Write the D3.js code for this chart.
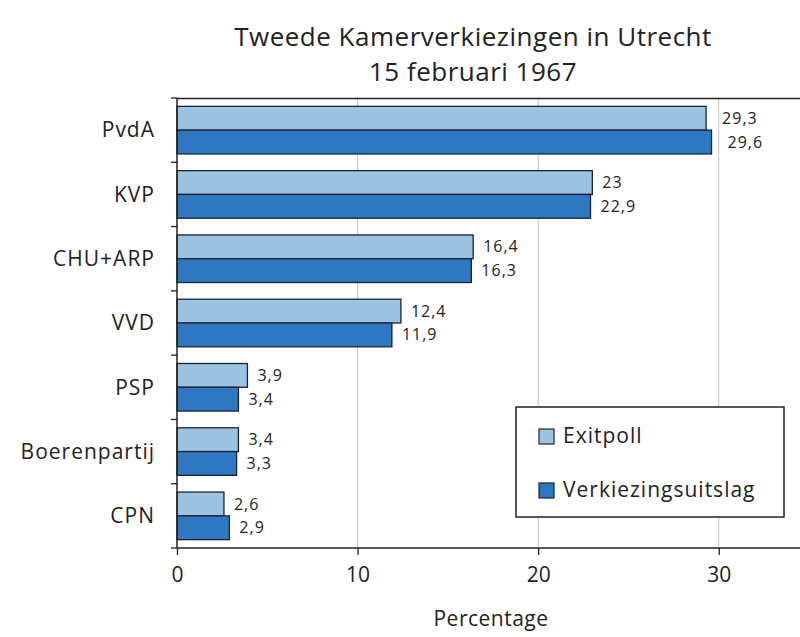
<!DOCTYPE html>
<html lang="nl">
<head>
  <meta charset="UTF-8">
  <title>Tweede Kamerverkiezingen in Utrecht</title>
  <style type="text/css">
    body { margin: 0; background: #fff; }
    svg text { font-family: "Open Sans", sans-serif; fill: #222; }
  </style>
</head>
<body>
  <div id="graph"></div>
  <script src="https://d3js.org/d3.v7.min.js" charset="utf-8"></script>
  <script>
    var parties = ['PvdA', 'KVP', 'CHU+ARP', 'VVD', 'PSP', 'Boerenpartij', 'CPN'];
    var exitpoll = [29.3, 23, 16.4, 12.4, 3.9, 3.4, 2.6];
    var uitslag = [29.6, 22.9, 16.3, 11.9, 3.4, 3.3, 2.9];
    var seriesNames = ['Exitpoll', 'Verkiezingsuitslag'];
    var xTicks = [0, 10, 20, 30];
    var colors = ['#9dc3e2', '#2e78c2'];

    var width = 800, height = 637;
    var margins = { top: 98, right: 0, bottom: 89, left: 177 };

    var svg = d3.select('#graph').append('svg')
        .attr('width', width)
        .attr('height', height);

    var x = d3.scaleLinear()
        .domain([0, 34.5])
        .range([margins.left, width - margins.right]);

    var y = d3.scaleBand()
        .domain(parties)
        .range([margins.top, height - margins.bottom])
        .paddingInner(0.26)
        .paddingOuter(0.13);

    var ySub = d3.scaleBand()
        .domain([0, 1])
        .range([0, y.bandwidth()]);

    // gridlines
    svg.append('g')
      .selectAll('line')
      .data(xTicks.slice(1))
      .join('line')
        .attr('x1', function(d) { return x(d); })
        .attr('x2', function(d) { return x(d); })
        .attr('y1', margins.top)
        .attr('y2', height - margins.bottom)
        .attr('stroke', '#c4c4c4')
        .attr('stroke-width', 1);

    // top border
    svg.append('line')
      .attr('x1', margins.left).attr('x2', width)
      .attr('y1', margins.top + 0.5).attr('y2', margins.top + 0.5)
      .attr('stroke', '#222').attr('stroke-width', 1.5);

    var rows = parties.map(function(p, i) {
      return { party: p, values: [exitpoll[i], uitslag[i]] };
    });

    var groups = svg.append('g')
      .selectAll('g')
      .data(rows)
      .join('g')
        .attr('transform', function(d) { return 'translate(0,' + y(d.party) + ')'; });

    groups.selectAll('rect')
      .data(function(d) { return d.values; })
      .join('rect')
        .attr('x', x(0))
        .attr('y', function(d, i) { return ySub(i); })
        .attr('width', function(d) { return x(d) - x(0); })
        .attr('height', ySub.bandwidth())
        .attr('fill', function(d, i) { return colors[i]; })
        .attr('stroke', '#1c2233')
        .attr('stroke-width', 1.3);

    groups.selectAll('text')
      .data(function(d) { return d.values; })
      .join('text')
        .attr('x', function(d) { return x(d) + (d > 29 ? 16 : 10); })
        .attr('y', function(d, i) { return ySub(i) + ySub.bandwidth() / 2; })
        .attr('dy', '0.35em')
        .attr('font-size', 16)
        .attr('letter-spacing', 1)
        .text(function(d) { return String(d).replace('.', ','); });

    // left axis with ticks between categories
    var yAxis = svg.append('g');
    yAxis.append('line')
      .attr('x1', x(0)).attr('x2', x(0))
      .attr('y1', margins.top).attr('y2', height - margins.bottom)
      .attr('stroke', '#222').attr('stroke-width', 1.5);
    var bounds = d3.range(parties.length + 1).map(function(i) {
      return margins.top + i * (height - margins.top - margins.bottom) / parties.length;
    });
    yAxis.selectAll('line.tick')
      .data(bounds)
      .join('line')
        .attr('class', 'tick')
        .attr('x1', x(0) - 6).attr('x2', x(0))
        .attr('y1', function(d) { return d; })
        .attr('y2', function(d) { return d; })
        .attr('stroke', '#222').attr('stroke-width', 1.3);
    yAxis.selectAll('text')
      .data(parties)
      .join('text')
        .attr('x', 155)
        .attr('y', function(d) { return y(d) + y.bandwidth() / 2; })
        .attr('dy', '0.35em')
        .attr('text-anchor', 'end')
        .attr('font-size', 21)
        .attr('letter-spacing', 1)
        .text(function(d) { return d; });

    // bottom axis
    var xAxis = svg.append('g')
      .attr('transform', 'translate(0,' + (height - margins.bottom) + ')')
      .call(d3.axisBottom(x).tickValues(xTicks).tickSize(7).tickPadding(12));
    xAxis.select('.domain').remove();
    xAxis.append('line')
      .attr('x1', x(0)).attr('x2', width)
      .attr('stroke', '#222').attr('stroke-width', 1.5);
    xAxis.selectAll('.tick line').attr('stroke', '#222').attr('stroke-width', 1.3);
    xAxis.selectAll('.tick text')
      .attr('font-size', 21)
      .attr('font-family', '"Open Sans", sans-serif')
      .attr('fill', '#222');

    svg.append('text')
      .attr('x', 491)
      .attr('y', 626)
      .attr('text-anchor', 'middle')
      .attr('font-size', 21)
      .attr('letter-spacing', 0.5)
      .text('Percentage');

    // title
    svg.append('text')
      .attr('x', 473).attr('y', 46)
      .attr('text-anchor', 'middle')
      .attr('font-size', 26)
      .attr('letter-spacing', 0.5)
      .text('Tweede Kamerverkiezingen in Utrecht');
    svg.append('text')
      .attr('x', 473).attr('y', 81)
      .attr('text-anchor', 'middle')
      .attr('font-size', 26)
      .attr('letter-spacing', 0.5)
      .text('15 februari 1967');

    // legend
    var legend = svg.append('g').attr('transform', 'translate(516,407)');
    legend.append('rect')
      .attr('width', 268).attr('height', 110)
      .attr('fill', '#fff')
      .attr('stroke', '#222').attr('stroke-width', 1.5);
    var items = legend.selectAll('g')
      .data(seriesNames)
      .join('g')
        .attr('transform', function(d, i) { return 'translate(23,' + (29 + i * 54) + ')'; });
    items.append('rect')
      .attr('x', 0).attr('y', -7)
      .attr('width', 15).attr('height', 15)
      .attr('fill', function(d, i) { return colors[i]; })
      .attr('stroke', '#1c2233').attr('stroke-width', 1.2);
    items.append('text')
      .attr('x', 24)
      .attr('dy', '0.35em')
      .attr('font-size', 21)
      .attr('letter-spacing', 1)
      .text(function(d) { return d; });
  </script>
</body>
</html>
